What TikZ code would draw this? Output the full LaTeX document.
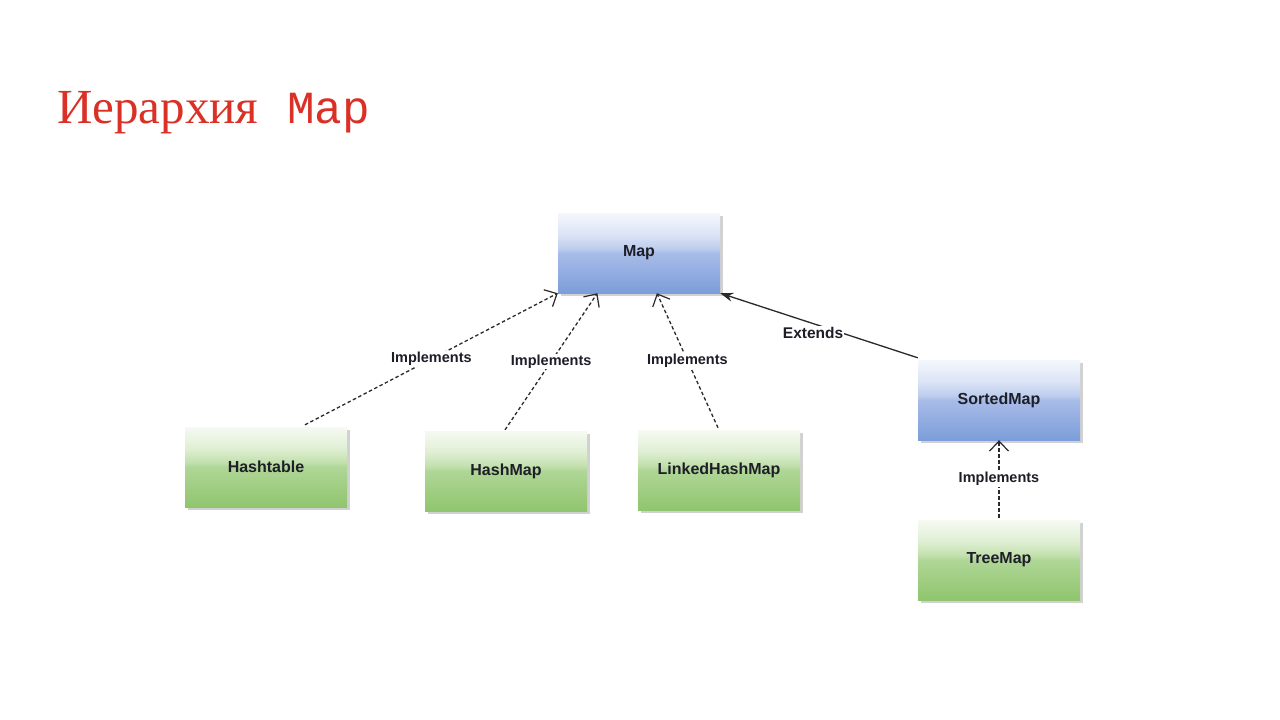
\documentclass[tikz,border=0pt]{standalone}
\usepackage{fontspec}
\setmainfont{Liberation Sans}
\newfontfamily\titleserif{Liberation Serif}
\newfontfamily\titlemono{Liberation Mono}
\usetikzlibrary{arrows.meta,shadows,calc}
\definecolor{titlered}{RGB}{218,48,38}
\definecolor{bT}{HTML}{F4F7FD}
\definecolor{bU}{HTML}{DCE4F6}
\definecolor{bM1}{HTML}{BFCEEE}
\definecolor{bM2}{HTML}{A8BCE8}
\definecolor{bB}{HTML}{7C9DDA}
\definecolor{gT}{HTML}{F6FAF2}
\definecolor{gU}{HTML}{E0EFD5}
\definecolor{gM1}{HTML}{C2E0AD}
\definecolor{gM2}{HTML}{AFD696}
\definecolor{gB}{HTML}{90C56E}
\definecolor{txt}{HTML}{1E1E28}
\definecolor{edge}{HTML}{2A2A2A}
\pgfdeclareverticalshading{bluebox}{100bp}{color(0bp)=(bB); color(25bp)=(bB); color(50bp)=(bM2); color(53bp)=(bM1); color(62bp)=(bU); color(75bp)=(bT); color(100bp)=(bT)}
\pgfdeclareverticalshading{greenbox}{100bp}{color(0bp)=(gB); color(25bp)=(gB); color(50bp)=(gM2); color(53bp)=(gM1); color(62bp)=(gU); color(75bp)=(gT); color(100bp)=(gT)}
\tikzset{
  cls/.style={minimum width=162pt, minimum height=80pt, inner sep=0pt,
    font=\fontsize{16}{19}\selectfont\bfseries, text=txt,
    drop shadow={shadow xshift=3pt, shadow yshift=-3pt, fill=black, opacity=0.18}},
  iface/.style={cls, shading=bluebox},
  impl/.style={cls, shading=greenbox},
  implements/.style={draw=edge, line width=1.3pt, dash pattern=on 3.5pt off 2.5pt,
    -{Straight Barb[length=10pt,width=19pt,line width=1.2pt]}},
  extends/.style={draw=edge, line width=1.3pt, -{Stealth[length=13pt,width=9pt]}},
  lbl/.style={fill=white, inner sep=1pt, text=txt, font=\fontsize{14.5}{17}\selectfont\bfseries},
}
\begin{document}
\begin{tikzpicture}[x=1pt,y=-1pt]
\useasboundingbox (0,0) rectangle (1280,720);
\fill[white] (0,0) rectangle (1280,720);
% title
\node[anchor=base west, inner sep=0pt, text=titlered, font=\titleserif\fontsize{49}{58}\selectfont] (t1) at (57,123) {Иерархия};
\node[anchor=base west, inner sep=0pt, text=titlered, font=\titlemono\fontsize{46}{56}\selectfont] (t2) at (287,123) {Map};
% classes
\node[iface] (map) at (639,253) {Map};
\node[impl] (ht) at (266,467) {Hashtable};
\node[impl] (hm) at (506,471) {HashMap};
\node[impl] (lhm) at (719,470) {LinkedHashMap};
\node[iface] (sm) at (999,400) {SortedMap};
\node[impl] (tm) at (999,560) {TreeMap};
% connectors
\draw[implements] ($(ht.north)+(39,-2)$) -- (map.south west) node[lbl, pos=0.5] {Implements};
\draw[implements] ($(hm.north)+(-1,-1)$) -- (map.224) node[lbl, pos=0.5] {Implements};
\draw[implements] ($(lhm.north)+(-1,-2)$) -- (map.-66) node[lbl, pos=0.5] {Implements};
\draw[extends] ($(sm.north west)+(0,-2)$) -- (map.south east) node[lbl, pos=0.53, yshift=-9pt, font=\fontsize{15.5}{18}\selectfont\bfseries] {Extends};
\draw[implements] ($(tm.north)+(0,-2)$) -- (sm.south) node[lbl, pos=0.5] {Implements};
\end{tikzpicture}
\end{document}
